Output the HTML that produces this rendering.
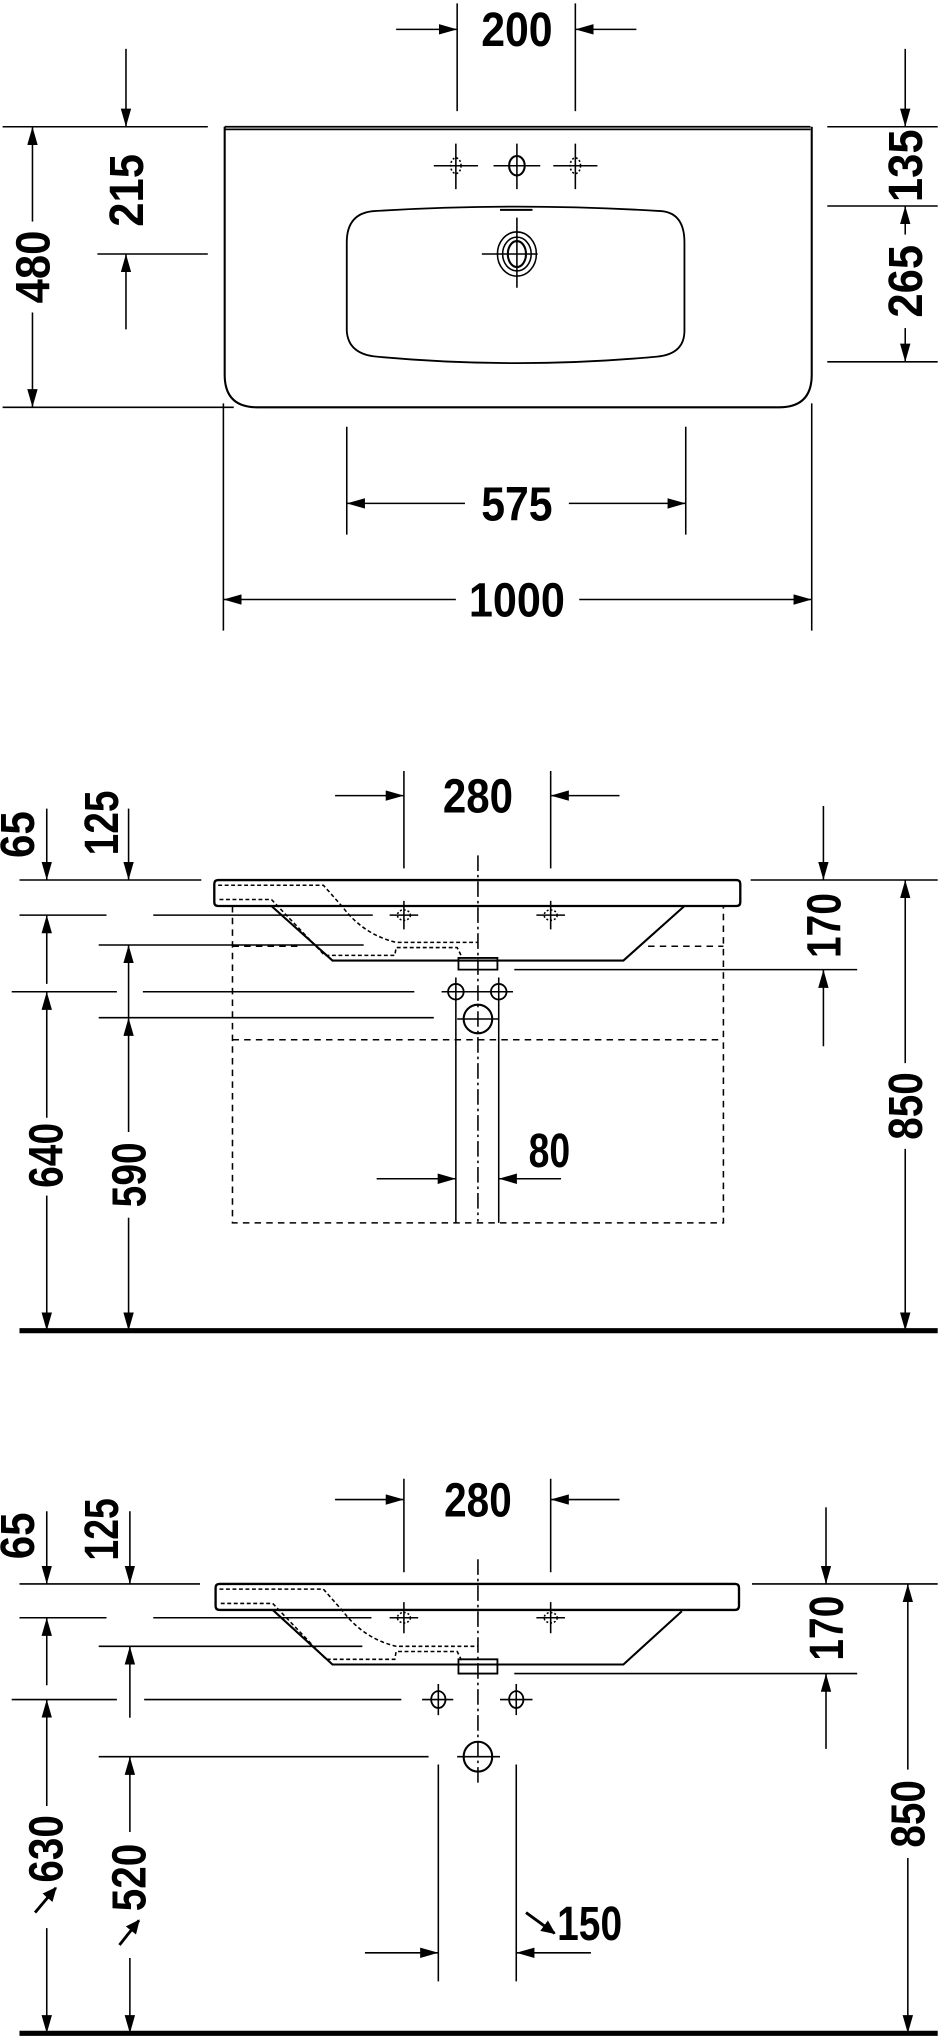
<!DOCTYPE html>
<html><head><meta charset="utf-8"><style>
html,body{margin:0;padding:0;background:#fff;}
svg{display:block;}
text{font-family:"Liberation Sans",sans-serif;font-weight:bold;fill:#000;}
</style></head><body>
<svg width="939" height="2038" viewBox="0 0 723 1568" xmlns="http://www.w3.org/2000/svg">
<defs>
<marker id="a" markerUnits="userSpaceOnUse" markerWidth="16" markerHeight="10" refX="14" refY="4" orient="auto-start-reverse"><path d="M0,0 L14,4 L0,8 Z" fill="#000"/></marker>
<marker id="b" markerUnits="userSpaceOnUse" markerWidth="14" markerHeight="12" refX="10" refY="5" orient="auto"><path d="M0,0 L11,5 L0,10 Z" fill="#000"/></marker>
</defs>
<g stroke="#000" stroke-width="1.2" fill="none">
<!-- ============ TOP VIEW ============ -->
<path d="M173,97 H624 M173,99 H624" stroke-width="1.3"/>
<path d="M173,97 V288 Q173,313 198,313 H600 Q625,313 625,288 V97" stroke-width="1.6"/>
<path d="M287,162 Q398,155 510,162 Q527,164 527,186 V254 Q527,272 506,274 Q398,284 290,274 Q268,272 267,254 V186 Q267,164 287,162Z" stroke-width="1.4"/>
<ellipse cx="398" cy="127" rx="6" ry="7.5" stroke-width="1.6"/>
<path d="M380,127 H416 M398,110 V145"/>
<ellipse cx="351" cy="127" rx="4" ry="6" stroke-dasharray="1.5,1.5"/>
<path d="M334,127 H368 M351,110 V145"/>
<ellipse cx="443" cy="127" rx="4" ry="6" stroke-dasharray="1.5,1.5"/>
<path d="M426,127 H460 M443,110 V145"/>
<path d="M385,161 H410" stroke-width="1.6"/>
<ellipse cx="398" cy="195" rx="15" ry="17"/>
<ellipse cx="398" cy="195" rx="11" ry="13"/>
<ellipse cx="398" cy="195" rx="7" ry="10" stroke-width="1.6"/>
<path d="M371,195 H414 M398,167 V221"/>
<path d="M352,2 V85 M443,2 V85"/>
<path d="M305,22 H352" marker-end="url(#a)"/>
<path d="M490,22 H443" marker-end="url(#a)"/>
<path d="M2,97 H160 M75,195 H160"/>
<path d="M97,37 V97" marker-end="url(#a)"/>
<path d="M97,253 V195" marker-end="url(#a)"/>
<path d="M2,313 H180"/>
<path d="M25,97 V170" marker-start="url(#a)"/>
<path d="M25,240 V313" marker-end="url(#a)"/>
<path d="M637,97 H722 M637,158 H722 M637,278 H722"/>
<path d="M697,37 V97" marker-end="url(#a)"/>
<path d="M697,158 V180" marker-start="url(#a)"/>
<path d="M697,252 V278" marker-end="url(#a)"/>
<path d="M267,328 V411 M528,328 V411"/>
<path d="M267,387 H358" marker-start="url(#a)"/>
<path d="M438,387 H528" marker-end="url(#a)"/>
<path d="M172,310 V485 M625,310 V485"/>
<path d="M172,461 H351" marker-start="url(#a)"/>
<path d="M446,461 H625" marker-end="url(#a)"/>

<!-- ============ MIDDLE VIEW ============ -->
<path d="M311,593 V668 M424,593 V668"/>
<path d="M258,612 H311" marker-end="url(#a)"/>
<path d="M477,612 H424" marker-end="url(#a)"/>
<path d="M168,677 H567 Q570,677 570,680 V694 Q570,697 567,697 H168 Q165,697 165,694 V680 Q165,677 168,677Z" stroke-width="1.8"/>
<path d="M209,697 L256,739 H480 L527,697" stroke-width="1.6"/>
<path d="M168,681 H249 L264,698 Q280,719 305,725 H368 M169,692 H209 L250,735 H304 L305,729 H352 L356,737" stroke-dasharray="3,2"/>
<path d="M353,737 H383 V746 H353 Z" stroke-width="1.4"/>
<path d="M396,746 H660"/>
<path d="M179,697 V941 H557 V697 M179,728 H231 M499,728 H557 M179,800 H557" stroke-dasharray="5,4"/>
<path d="M368,658 V940" stroke-dasharray="12,3,2,3"/>
<ellipse cx="311" cy="704" rx="5" ry="4" stroke-dasharray="1.5,1.5"/>
<path d="M300,704 H322 M311,693 V715"/>
<ellipse cx="424" cy="704" rx="5" ry="4" stroke-dasharray="1.5,1.5"/>
<path d="M413,704 H435 M424,693 V715"/>
<circle cx="351" cy="763" r="6" stroke-width="1.4"/>
<circle cx="384" cy="763" r="6" stroke-width="1.4"/>
<circle cx="368" cy="784" r="11" stroke-width="1.6"/>
<path d="M340,763 H395 M351,752 V774 M384,752 V774 M351,772 V941 M384,772 V941 M352,784 H384"/>
<path d="M290,907 H351" marker-end="url(#a)"/>
<path d="M432,907 H384" marker-end="url(#a)"/>
<path d="M15,677 H155 M15,704 H82 M118,704 H287 M76,727 H280 M9,763 H90 M110,763 H319 M76,783 H334"/>
<path d="M36,622 V677" marker-end="url(#a)"/>
<path d="M36,757 V704" marker-end="url(#a)"/>
<path d="M36,763 V860" marker-start="url(#a)"/>
<path d="M36,920 V1024" marker-end="url(#a)"/>
<path d="M99,622 V677" marker-end="url(#a)"/>
<path d="M99,783 V727" marker-end="url(#a)"/>
<path d="M99,783 V871" marker-start="url(#a)"/>
<path d="M99,937 V1024" marker-end="url(#a)"/>
<path d="M578,677 H722"/>
<path d="M634,620 V677" marker-end="url(#a)"/>
<path d="M634,805 V746" marker-end="url(#a)"/>
<path d="M697,677 V818" marker-start="url(#a)"/>
<path d="M697,884 V1024" marker-end="url(#a)"/>
<path d="M15,1024 H722" stroke-width="4"/>

<!-- ============ BOTTOM VIEW ============ -->
<path d="M311,1138 V1210 M424,1138 V1210"/>
<path d="M258,1154 H311" marker-end="url(#a)"/>
<path d="M477,1154 H424" marker-end="url(#a)"/>
<path d="M169,1219 H566 Q569,1219 569,1222 V1236 Q569,1239 566,1239 H169 Q166,1239 166,1236 V1222 Q166,1219 169,1219Z" stroke-width="1.8"/>
<path d="M210,1239 L256,1281 H480 L525,1240" stroke-width="1.6"/>
<path d="M169,1223 H249 L264,1240 Q280,1261 305,1267 H368 M170,1234 H210 L251,1277 H304 L305,1271 H352 L356,1279" stroke-dasharray="3,2"/>
<path d="M353,1277 H383 V1288 H353 Z" stroke-width="1.4"/>
<path d="M396,1288 H660"/>
<path d="M368,1200 V1374" stroke-dasharray="12,3,2,3"/>
<ellipse cx="311" cy="1245" rx="5" ry="4" stroke-dasharray="1.5,1.5"/>
<path d="M300,1245 H322 M311,1233 V1257"/>
<ellipse cx="424" cy="1245" rx="5" ry="4" stroke-dasharray="1.5,1.5"/>
<path d="M413,1245 H435 M424,1233 V1257"/>
<ellipse cx="337.5" cy="1308" rx="5.5" ry="6.5" stroke-width="1.4"/>
<ellipse cx="397.5" cy="1308" rx="5.5" ry="6.5" stroke-width="1.4"/>
<path d="M325,1308 H349 M337.5,1296 V1320 M385,1308 H410 M397.5,1296 V1320"/>
<ellipse cx="368" cy="1352" rx="11" ry="11.5" stroke-width="1.6"/>
<path d="M352,1352 H385"/>
<path d="M337.5,1358 V1525 M397.5,1358 V1525"/>
<path d="M281,1503 H337.5" marker-end="url(#a)"/>
<path d="M455,1503 H397.5" marker-end="url(#a)"/>
<path d="M405,1472 L427,1488" stroke-width="2.2" marker-end="url(#b)"/>
<path d="M15,1219 H154 M15,1245 H82 M118,1245 H286 M76,1267 H279 M9,1308 H90 M111,1308 H309 M76,1352 H330"/>
<path d="M36,1163 V1219" marker-end="url(#a)"/>
<path d="M36,1297 V1245" marker-end="url(#a)"/>
<path d="M36,1308 V1390" marker-start="url(#a)"/>
<path d="M36,1484 V1565" marker-end="url(#a)"/>
<path d="M100,1163 V1219" marker-end="url(#a)"/>
<path d="M100,1322 V1267" marker-end="url(#a)"/>
<path d="M100,1352 V1410" marker-start="url(#a)"/>
<path d="M100,1507 V1565" marker-end="url(#a)"/>
<path d="M27,1472 L43,1453" stroke-width="2.2" marker-end="url(#b)"/>
<path d="M92,1497 L107,1478" stroke-width="2.2" marker-end="url(#b)"/>
<path d="M579,1219 H722"/>
<path d="M636,1160 V1219" marker-end="url(#a)"/>
<path d="M636,1346 V1288" marker-end="url(#a)"/>
<path d="M699,1219 V1362" marker-start="url(#a)"/>
<path d="M699,1430 V1565" marker-end="url(#a)"/>
<path d="M15,1565 H722" stroke-width="4"/>
</g>

<g font-size="37">
<text x="398" y="35" text-anchor="middle" textLength="55" lengthAdjust="spacingAndGlyphs">200</text>
<text transform="translate(110,146) rotate(-90)" text-anchor="middle" textLength="56" lengthAdjust="spacingAndGlyphs">215</text>
<text transform="translate(38,205) rotate(-90)" text-anchor="middle" textLength="56" lengthAdjust="spacingAndGlyphs">480</text>
<text transform="translate(710,127) rotate(-90)" text-anchor="middle" textLength="56" lengthAdjust="spacingAndGlyphs">135</text>
<text transform="translate(710,216) rotate(-90)" text-anchor="middle" textLength="56" lengthAdjust="spacingAndGlyphs">265</text>
<text x="398" y="400" text-anchor="middle" textLength="55" lengthAdjust="spacingAndGlyphs">575</text>
<text x="398" y="474" text-anchor="middle" textLength="74" lengthAdjust="spacingAndGlyphs">1000</text>

<text x="368" y="625" text-anchor="middle" textLength="54" lengthAdjust="spacingAndGlyphs">280</text>
<text transform="translate(26,642) rotate(-90)" text-anchor="middle" textLength="36" lengthAdjust="spacingAndGlyphs">65</text>
<text transform="translate(91,633) rotate(-90)" text-anchor="middle" textLength="50" lengthAdjust="spacingAndGlyphs">125</text>
<text transform="translate(48,889) rotate(-90)" text-anchor="middle" textLength="50" lengthAdjust="spacingAndGlyphs">640</text>
<text transform="translate(112,904) rotate(-90)" text-anchor="middle" textLength="50" lengthAdjust="spacingAndGlyphs">590</text>
<text x="423" y="898" text-anchor="middle" textLength="32" lengthAdjust="spacingAndGlyphs">80</text>
<text transform="translate(647,712) rotate(-90)" text-anchor="middle" textLength="50" lengthAdjust="spacingAndGlyphs">170</text>
<text transform="translate(710,851) rotate(-90)" text-anchor="middle" textLength="52" lengthAdjust="spacingAndGlyphs">850</text>

<text x="368" y="1167" text-anchor="middle" textLength="52" lengthAdjust="spacingAndGlyphs">280</text>
<text transform="translate(26,1182) rotate(-90)" text-anchor="middle" textLength="36" lengthAdjust="spacingAndGlyphs">65</text>
<text transform="translate(91,1177) rotate(-90)" text-anchor="middle" textLength="48" lengthAdjust="spacingAndGlyphs">125</text>
<text transform="translate(48,1423) rotate(-90)" text-anchor="middle" textLength="52" lengthAdjust="spacingAndGlyphs">630</text>
<text transform="translate(112,1445) rotate(-90)" text-anchor="middle" textLength="52" lengthAdjust="spacingAndGlyphs">520</text>
<text x="454" y="1493" text-anchor="middle" textLength="50" lengthAdjust="spacingAndGlyphs">150</text>
<text transform="translate(649,1253) rotate(-90)" text-anchor="middle" textLength="50" lengthAdjust="spacingAndGlyphs">170</text>
<text transform="translate(712,1396) rotate(-90)" text-anchor="middle" textLength="52" lengthAdjust="spacingAndGlyphs">850</text>
</g>
</svg>
</body></html>
